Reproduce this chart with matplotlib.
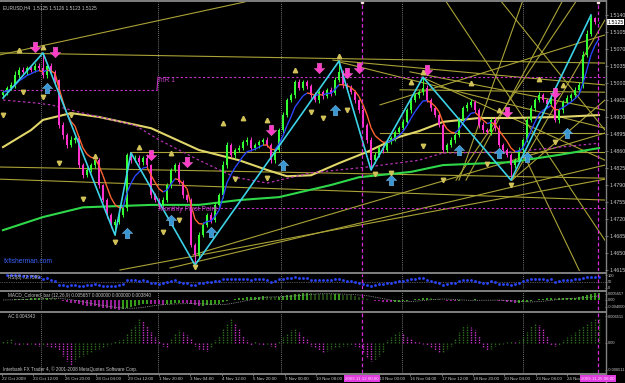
import numpy as np
import pandas as pd
import matplotlib
matplotlib.use("Agg")
import matplotlib.pyplot as plt
import matplotlib.transforms as mtransforms
from matplotlib.path import Path
from matplotlib.lines import Line2D
from matplotlib.collections import LineCollection

plt.rcParams['font.family'] = ['Liberation Sans', 'DejaVu Sans']

# -----------------------------
# EURUSD H4 bars
# -----------------------------
first_open = 1.4975
closes = [
    1.4981, 1.4990, 1.4996, 1.5016, 1.5027, 1.5022, 1.5031, 1.5027, 1.5035, 1.5031,
    1.5016, 1.5035, 1.5022, 1.5006, 1.4913, 1.4893, 1.4872, 1.4883, 1.4887, 1.4831,
    1.4811, 1.4821, 1.4831, 1.4841, 1.4790, 1.4759, 1.4728, 1.4708, 1.4714, 1.4728,
    1.4743, 1.4852, 1.4841, 1.4846, 1.4837, 1.4846, 1.4831, 1.4769, 1.4759, 1.4749,
    1.4759, 1.4790, 1.4821, 1.4831, 1.4796, 1.4769, 1.4759, 1.4666, 1.4646, 1.4687,
    1.4708, 1.4728, 1.4718, 1.4749, 1.4769, 1.4831, 1.4872, 1.4852, 1.4862, 1.4866,
    1.4878, 1.4883, 1.4866, 1.4872, 1.4878, 1.4883, 1.4872, 1.4841, 1.4862, 1.4903,
    1.4934, 1.4965, 1.4975, 1.5002, 1.4990, 1.5002, 1.4994, 1.4975, 1.4965, 1.4981,
    1.4973, 1.4986, 1.4980, 1.5006, 1.5022, 1.4996, 1.4990, 1.4981, 1.4965, 1.4944,
    1.4913, 1.4883, 1.4841, 1.4852, 1.4866, 1.4862, 1.4878, 1.4887, 1.4899, 1.4907,
    1.4920, 1.4944, 1.4965, 1.4975, 1.4981, 1.4990, 1.4965, 1.4949, 1.4934, 1.4913,
    1.4862, 1.4872, 1.4883, 1.4893, 1.4924, 1.4949, 1.4955, 1.4961, 1.4944, 1.4913,
    1.4903, 1.4899, 1.4924, 1.4907, 1.4872, 1.4862, 1.4852, 1.4831, 1.4841, 1.4862,
    1.4883, 1.4924, 1.4949, 1.4965, 1.4975, 1.4965, 1.4957, 1.4969, 1.4924, 1.4944,
    1.4961, 1.4969, 1.4975, 1.4986, 1.4996, 1.5058, 1.5100, 1.5134, 1.5125, 1.5125,
]
# wicks in pips above / below the body
wick_up = [
    5, 4, 6, 8, 5, 6, 4, 5, 7, 6,
    31, 5, 6, 4, 3, 6, 5, 8, 4, 3,
    5, 6, 4, 7, 4, 3, 5, 4, 6, 8,
    5, 4, 4, 6, 5, 4, 7, 3, 5, 4,
    6, 5, 4, 5, 6, 4, 3, 5, 4, 6,
    5, 4, 6, 5, 4, 8, 6, 5, 4, 6,
    4, 5, 6, 5, 4, 3, 6, 5, 4, 5,
    6, 4, 5, 5, 6, 4, 5, 4, 6, 5,
    5, 4, 6, 7, 23, 4, 5, 6, 4, 3,
    4, 5, 6, 5, 4, 6, 5, 4, 5, 4,
    5, 4, 6, 5, 4, 22, 5, 4, 3, 6,
    5, 4, 6, 5, 6, 4, 5, 6, 5, 4,
    6, 5, 4, 5, 6, 4, 5, 4, 5, 6,
    4, 6, 5, 4, 6, 5, 4, 6, 5, 4,
    5, 6, 4, 5, 6, 8, 9, 6, 2, 1,
]
wick_dn = [
    6, 5, 4, 6, 5, 4, 6, 5, 4, 5,
    6, 5, 4, 6, 5, 8, 6, 4, 6, 5,
    6, 5, 4, 5, 6, 4, 5, 6, 21, 5,
    4, 6, 5, 4, 6, 5, 4, 6, 5, 7,
    5, 4, 6, 5, 4, 6, 5, 4, 21, 6,
    5, 4, 6, 5, 4, 6, 5, 4, 6, 5,
    4, 6, 5, 4, 6, 5, 4, 6, 5, 4,
    6, 5, 4, 6, 5, 4, 6, 5, 4, 6,
    5, 4, 6, 5, 4, 6, 5, 4, 6, 5,
    4, 6, 20, 5, 4, 6, 5, 4, 6, 5,
    4, 6, 5, 4, 6, 5, 4, 6, 5, 4,
    6, 5, 4, 6, 5, 4, 6, 5, 4, 6,
    5, 4, 6, 5, 4, 6, 5, 31, 5, 4,
    6, 5, 4, 6, 5, 4, 6, 5, 4, 6,
    5, 4, 6, 5, 4, 6, 5, 4, 3, 2,
]

# zigzag pivots
zz_bars = [0, 10, 28, 32, 48, 84, 92, 105, 127, 147]
zz_kind = ['L', 'H', 'L', 'H', 'L', 'H', 'L', 'H', 'L', 'H']

# moving averages, read every few bars
ma_yellow_bars = [0, 7, 10, 17, 24, 37, 49, 59, 66, 71, 77, 84, 91, 99, 104, 110, 119, 127, 139, 149]
ma_yellow_vals = [1.4868, 1.4903, 1.4924, 1.4938, 1.4930, 1.4907, 1.4862, 1.4841, 1.4821, 1.4808,
                  1.4810, 1.4835, 1.4858, 1.4889, 1.4901, 1.4920, 1.4928, 1.4928, 1.4930, 1.4934]
ma_green_bars = [0, 10, 20, 37, 49, 59, 69, 82, 89, 102, 110, 127, 139, 149]
ma_green_vals = [1.4697, 1.4724, 1.4744, 1.4749, 1.4749, 1.4759, 1.4765, 1.4790, 1.4806, 1.4817,
                 1.4831, 1.4837, 1.4852, 1.4866]
ma_magenta_bars = [0, 8, 12, 20, 33, 39, 49, 58, 66, 77, 91, 104, 110, 127, 149]
ma_magenta_vals = [1.4965, 1.4959, 1.4955, 1.4938, 1.4913, 1.4883, 1.4841, 1.4806, 1.4794, 1.4815,
                   1.4827, 1.4841, 1.4856, 1.4858, 1.4876]

# monthly pivot levels (start bar, end bar, price)
pivot_r1 = [(-0.75, 38.5, 1.4986), (38.75, 150.5, 1.5012)]
pivot_pp = [(38.75, 150.5, 1.4742)]

# trend / fan lines (bar0, price0, bar1, price1)
trend_lines = [
    (-0.75, 1.5058, 60.5, 1.5167),
    (-0.75, 1.5062, 150.5, 1.5041),
    (82.5, 1.5047, 150.5, 1.4996),
    (-0.75, 1.4827, 150.5, 1.4804),
    (-0.75, 1.4802, 150.5, 1.4759),
    (31.75, 1.4858, 150.5, 1.4858),
    (94.25, 1.4897, 150.5, 1.4897),
    (99.25, 1.4986, 150.5, 1.4981),
    (47.5, 1.4646, 150.5, 1.4897),
    (41.75, 1.4619, 150.5, 1.4831),
    (29.25, 1.4615, 150.5, 1.4802),
    (101.75, 1.5023, 150.5, 1.4944),
    (84.25, 1.5043, 150.5, 1.4907),
    (104.75, 1.5012, 150.5, 1.4841),
    (113.25, 1.4800, 143.5, 1.5171),
    (114.0, 1.4800, 130.0, 1.5171),
    (115.75, 1.4800, 140.0, 1.5171),
    (127.25, 1.4800, 150.5, 1.5130),
    (127.25, 1.4800, 150.5, 1.4965),
    (130.0, 1.4856, 144.25, 1.4611),
    (110.5, 1.5171, 150.5, 1.4676),
    (124.25, 1.5171, 150.5, 1.4903),
    (94.25, 1.4955, 150.5, 1.5099),
]

# signal arrows
sell_bars = [8, 13, 37, 46, 67, 79, 86, 89, 106, 126, 138]
sell_vals = [1.5074, 1.5064, 1.4852, 1.4837, 1.4903, 1.5031, 1.5021, 1.5031, 1.5027, 1.4940, 1.4979]
buy_bars = [11, 31, 42, 52, 70, 83, 97, 114, 124, 131, 141]
buy_vals = [1.4990, 1.4691, 1.4718, 1.4693, 1.4831, 1.4944, 1.4800, 1.4862, 1.4856, 1.4848, 1.4897]

# fractal marks
frac_up_bars = [4, 10, 23, 34, 42, 55, 60, 66, 73, 84, 102, 105, 117, 124, 134, 140]
frac_up_vals = [1.5068, 1.5074, 1.4850, 1.4868, 1.4856, 1.4918, 1.4928, 1.4924, 1.5027, 1.5055,
                1.5002, 1.5023, 1.5000, 1.4944, 1.5008, 1.4996]
frac_dn_bars = [0, 5, 10, 14, 17, 20, 28, 40, 44, 48, 58, 66, 77, 80, 86, 93, 97, 105, 110, 121, 127, 138]
frac_dn_vals = [1.4934, 1.4981, 1.4971, 1.4835, 1.4934, 1.4761, 1.4672, 1.4693, 1.4718, 1.4621,
                1.4802, 1.4804, 1.4940, 1.4928, 1.4944, 1.4813, 1.4815, 1.4870, 1.4800, 1.4833,
                1.4790, 1.4879]

# accelerator oscillator (units of 0.0001)
ac_vals = [
    4, 6, 10, -2, -4, -2, -4, -2, -4, -6,
    -4, -6, -8, -10, -16, -28, -40, -48, -40, -32,
    -28, -24, -20, -16, -12, -10, -6, -2, 4, 6,
    10, 20, 30, 40, 52, 48, 36, 24, 12, 4,
    -6, -8, 10, 20, 28, 24, 18, 10, -6, -12,
    -16, -18, -10, 6, 16, 30, 44, 54, 44, 30,
    16, 6, -4, 4, -2, -4, -2, -6, -8, 4,
    12, 20, 28, 32, 24, 16, 8, -6, -10, -16,
    -20, -18, -12, -10, -8, -6, -6, -4, -6, -10,
    -20, -30, -40, -36, -28, -20, 6, 12, 20, 24,
    20, 12, 8, 4, 2, -2, -4, -8, -16, -22,
    -20, -14, -6, 10, 24, 36, 40, 34, 28, 16,
    -8, -16, -12, -6, -4, -2, 2, 4, 2, 6,
    12, 24, 36, 44, 40, 30, 16, -4, -6, -4,
    6, 12, 18, 24, 30, 36, 42, 48, 52, 54,
]

week_breaks = [9.5, 38.75, 69.5, 99.75, 130.0]
cursor_bars = [89.75, 148.75]
cursor_text = ['2009.11.12 00:00', '2009.11.25 08:00']

date_labels = ['22 Oct 2009', '23 Oct 12:00', '26 Oct 20:00', '28 Oct 04:00', '29 Oct 12:00',
               '1 Nov 20:00', '3 Nov 04:00', '4 Nov 12:00', '5 Nov 20:00', '9 Nov 00:00',
               '10 Nov 08:00', '11 Nov 16:00', '13 Nov 00:00', '16 Nov 04:00', '17 Nov 12:00',
               '18 Nov 20:00', '20 Nov 04:00', '23 Nov 08:00', '24 Nov 16:00']
price_ticks = [1.4615 + 0.0035 * k for k in range(16)]

# -----------------------------
# derived series
# -----------------------------
c = np.array(closes)
o = np.r_[first_open, c[:-1]]
h = np.maximum(o, c) + np.array(wick_up) * 1e-4
l = np.minimum(o, c) - np.array(wick_dn) * 1e-4
n = len(c)
x = np.arange(n)

s = pd.Series(c)
ema = s.ewm(span=6, adjust=False).mean().values
macd = (s.ewm(span=12, adjust=False).mean() - s.ewm(span=26, adjust=False).mean()).values
signal = pd.Series(macd).rolling(9, min_periods=1).mean().values
delta = s.diff()
gain = delta.clip(lower=0).ewm(alpha=1 / 8, adjust=False).mean()
loss = (-delta.clip(upper=0)).ewm(alpha=1 / 8, adjust=False).mean()
rsi = (100 - 100 / (1 + gain / loss)).values
ac = np.array(ac_vals) * 1e-4

# -----------------------------
# figure
# -----------------------------
W, H = 625, 383
fig = plt.figure(figsize=(W / 100, H / 100), dpi=100, facecolor='black')
GRID = '#808080'
TXT = '#c8c8c8'


def panel(top, bottom):
    ax = fig.add_axes([0, 1 - bottom / H, 605 / W, (bottom - top) / H])
    ax.set_facecolor('black')
    for sp in ax.spines.values():
        sp.set_visible(False)
    ax.set_xlim(-0.75, 150.5)
    ax.yaxis.tick_right()
    ax.tick_params(axis='y', colors=GRID, labelcolor=TXT, labelsize=2.9, length=1.5, width=0.6, pad=0.5)
    ax.tick_params(axis='x', bottom=False, labelbottom=False)
    for b in week_breaks:
        ax.axvline(b, color='#9a9a9a', lw=0.6, ls=(0, (1, 1.5)), zorder=0)
    for b in cursor_bars:
        ax.axvline(b, color='#d22ad2', lw=0.9, ls=(0, (3, 2)), zorder=6)
    return ax


ax = panel(2, 271)
ax.set_ylim(1.46129, 1.51668)
ax.set_yticks(price_ticks)
ax.set_yticklabels([f'{p:.4f}' for p in price_ticks])
ax.tick_params(axis='y', labelsize=3.8, length=2, pad=1)

for b0, p0, b1, p1 in trend_lines:
    ax.plot([b0, b1], [p0, p1], color='#aaa236', lw=0.8, zorder=1)

for b0, b1, p in pivot_r1 + pivot_pp:
    ax.plot([b0, b1], [p, p], color='#c832c8', lw=0.8, ls=(0, (2, 2)), zorder=1)
ax.plot([38.5, 38.75], [pivot_r1[0][2], pivot_r1[1][2]], color='#c832c8', lw=0.8, zorder=1)

ax.plot(ma_yellow_bars, ma_yellow_vals, color='#e0d66a', lw=1.5, zorder=2)
ax.plot(ma_green_bars, ma_green_vals, color='#2fd84a', lw=1.5, zorder=2)
ax.plot(ma_magenta_bars, ma_magenta_vals, color='#b432b4', lw=0.9, ls=(0, (2, 2)), zorder=2)

# candles
up = c >= o
col = np.where(up, '#33ff33', '#ff33cc')
ax.vlines(x, l, h, colors=col, lw=0.7, zorder=3)
body = np.maximum(np.abs(c - o), 0.00006)
ax.bar(x, body, bottom=np.minimum(o, c), width=0.7, color=col, lw=0, zorder=3)

# smoothed line: blue rising, orange falling
segs = [[(i - 1, ema[i - 1]), (i, ema[i])] for i in range(1, n)]
seg_col = ['#2a46ff' if ema[i] >= ema[i - 1] else '#ff6432' for i in range(1, n)]
ax.add_collection(LineCollection(segs, colors=seg_col, linewidths=1.0, zorder=4))

zz_vals = [h[b] if k == 'H' else l[b] for b, k in zip(zz_bars, zz_kind)]
ax.plot(zz_bars, zz_vals, color='#3cd2e8', lw=1.2, zorder=4)

down_arrow = Path([(0, -1), (1, 0), (0.42, 0), (0.42, 1), (-0.42, 1), (-0.42, 0), (-1, 0), (0, -1)], closed=True)
up_arrow = Path([(0, 1), (1, 0), (0.42, 0), (0.42, -1), (-0.42, -1), (-0.42, 0), (-1, 0), (0, 1)], closed=True)
ax.plot(sell_bars, sell_vals, ls='none', marker=down_arrow, ms=7.5, mfc='#ff3cc8', mec='#ff78dc',
        mew=0.3, zorder=5)
ax.plot(buy_bars, buy_vals, ls='none', marker=up_arrow, ms=7.5, mfc='#3a96d2', mec='#8cd2ff',
        mew=0.3, zorder=5)
ax.plot(frac_up_bars, frac_up_vals, ls='none', marker='^', ms=3.2, color='#d2c25a', zorder=5)
ax.plot(frac_dn_bars, frac_dn_vals, ls='none', marker='v', ms=3.2, color='#d2c25a', zorder=5)

ax.text(38.9, 1.5006, 'mR 1', color='#c040c0', fontsize=4.8, va='center', ha='left', zorder=6)
ax.text(38.9, 1.4740, 'Monthly Pivot Point', color='#c040c0', fontsize=4.9, va='center', ha='left',
        zorder=6)
ax.text(0.007, 0.035, 'fxfisherman.com', transform=ax.transAxes, color='#3c64ff', fontsize=4.8,
        va='center', ha='left')
ax.text(0.005, 0.988, f'EURUSD,H4  {o[-1]:.4f} {h[-1]:.4f} {l[-1]:.4f} {c[-1]:.4f}',
        transform=ax.transAxes, color=TXT, fontsize=3.4, va='top', ha='left')

trans = mtransforms.blended_transform_factory(ax.transAxes, ax.transData)
ax.text(1.004, c[-1], f'{c[-1]:.4f}', transform=trans, fontsize=3.8, color='black', va='center',
        ha='left', zorder=8, clip_on=False,
        bbox=dict(boxstyle='square,pad=0.12', fc='white', ec='white', lw=0))
for b in cursor_bars:
    ax.plot([b], [1.51668], marker='s', ms=2, color='#ffe0e0', clip_on=False, zorder=7)

# RSI
ax_rsi = panel(274, 289)
ax_rsi.set_ylim(-8, 108)
ax_rsi.set_yticks([100, 50, 0])
ax_rsi.set_yticklabels(['100', '50', '0'])
ax_rsi.axhline(50, color='#9a9a9a', lw=0.5, ls=(0, (1, 1.5)))
ax_rsi.plot(x, rsi, ls='none', marker='s', ms=0.9, color='#2a46ff')
ax_rsi.text(0.013, 0.93, 'RSI(8) 72.7599', transform=ax_rsi.transAxes, color=TXT, fontsize=3.3,
            va='top', ha='left')

# MACD
ax_macd = panel(292, 310)
lo, hi = macd.min() * 1.05, macd.max() * 1.1
ax_macd.set_ylim(lo, hi)
ax_macd.set_yticks([hi * 0.75, 0, lo * 0.7])
ax_macd.set_yticklabels(['0.005657', '0.00', '-0.004000'])
rising = np.r_[True, np.diff(macd) >= 0]
mcol = np.where(rising, '#46c823', np.where(macd > 0, '#2a5a1a', '#c828c8'))
ax_macd.vlines(x, 0, macd, colors=mcol, lw=1.1)
ax_macd.plot(x, signal, color='#a0a0a0', lw=0.6, ls=(0, (1, 1.2)))
ax_macd.text(0.013, 0.95, 'MACD_Colored_bar (12,26,9) 0.005657 0.000000 0.000000 0.003840',
             transform=ax_macd.transAxes, color=TXT, fontsize=3.3, va='top', ha='left')

# AC
ax_ac = panel(313, 373)
ax_ac.set_ylim(-0.0065, 0.0065)
ax_ac.set_yticks([0.0058, 0, -0.0058])
ax_ac.set_yticklabels(['0.006511', '0.00', '-0.006511'])
ac_up = np.r_[True, np.diff(ac) >= 0]
ax_ac.vlines(x, 0, ac, colors=np.where(ac_up, '#2e6e1e', '#c832c8'), lw=1.0, ls=(0, (1, 0.8)))
ax_ac.text(0.013, 0.975, 'AC 0.004343', transform=ax_ac.transAxes, color=TXT, fontsize=3.3,
           va='top', ha='left')
ax_ac.text(0.005, 0.06, 'Interbank FX Trader 4, \u00a9 2001-2008 MetaQuotes Software Corp.',
           transform=ax_ac.transAxes, color=TXT, fontsize=3.3, va='center', ha='left')

# time scale: labels hidden under the cursor boxes are left out
cursor_px = [3 + 4 * b for b in cursor_bars]
date_pos, date_txt = [], []
for k, lab in enumerate(date_labels):
    xp = 2 + 31.4 * k
    if any(abs(xp + 12 - cp) < 16 for cp in cursor_px):
        continue
    date_pos.append((xp - 3) / 4)
    date_txt.append(lab)
ax_ac.tick_params(axis='x', bottom=True, labelbottom=True, colors=GRID, labelcolor=TXT,
                  labelsize=3.2, length=2, width=0.6, pad=1.2)
ax_ac.set_xticks(date_pos)
ax_ac.set_xticklabels(date_txt)
for t in ax_ac.get_xticklabels():
    t.set_ha('left')

# cursor labels on the time scale
for cp, txt in zip(cursor_px, cursor_text):
    fig.text(cp / W, 1 - 378.5 / H, txt, color='#ffd8ff', fontsize=3.2, ha='center', va='center',
             zorder=10, bbox=dict(boxstyle='square,pad=0.25', fc='#e03ce0', ec='none'))

# window separators
for yy in [1, 272.5, 290.8, 311.5, 373.8]:
    fig.add_artist(Line2D([0, 605.5 / W], [1 - yy / H, 1 - yy / H], color=GRID, lw=1.4))
fig.add_artist(Line2D([605.5 / W, 605.5 / W], [0, 1], color=GRID, lw=1.0))

fig.savefig('out.png', dpi=100, facecolor='black')
